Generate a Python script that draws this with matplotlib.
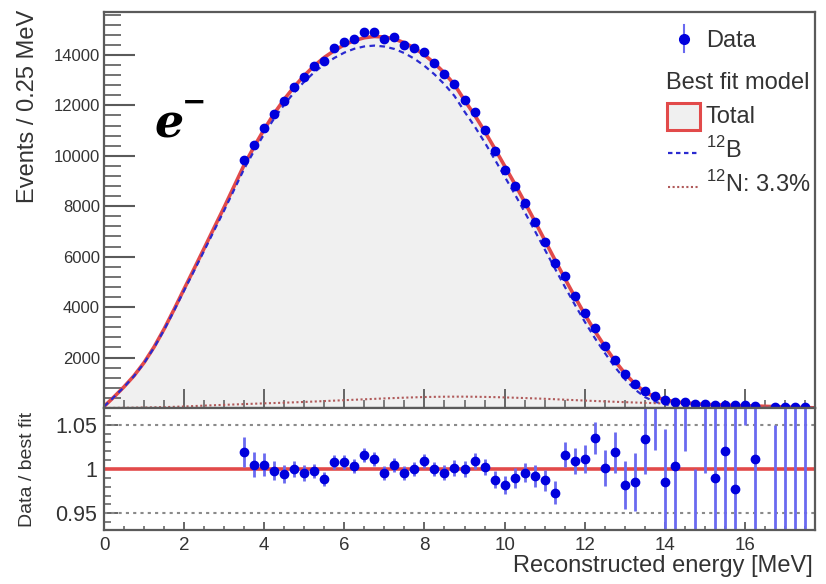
import numpy as np
import matplotlib
matplotlib.use('Agg')
import matplotlib.pyplot as plt
from matplotlib.lines import Line2D
from matplotlib.patches import Rectangle

plt.rcParams['font.family'] = ['Liberation Sans', 'DejaVu Sans']
plt.rcParams['mathtext.fontset'] = 'custom'
plt.rcParams['mathtext.rm'] = 'Liberation Sans'

# bin centres, 0.25 MeV wide
energy = np.arange(0, 17.76, 0.25)

# best fit total model (events / 0.25 MeV)
total_model = [
    60, 440, 840, 1280, 1800, 2420, 3130, 3910, 4720, 5520, 6330, 7150,
    7960, 8800, 9640, 10370, 11050, 11680, 12240, 12740, 13180, 13570,
    13900, 14170, 14400, 14570, 14680, 14730, 14710, 14630, 14480, 14270,
    14000, 13670, 13280, 12820, 12200, 11620, 10980, 10300, 9600, 8900,
    8170, 7420, 6660, 5900, 5150, 4420, 3720, 3060, 2450, 1880, 1380, 960,
    640, 440, 330, 250, 205, 170, 145, 130, 117, 105, 92, 79, 66, 53, 41,
    29, 17, 6,
]

# 12N component
n12_model = [
    0, 4, 8, 14, 20, 27, 35, 47, 60, 77, 95, 110, 125, 140, 155, 170, 185,
    197, 210, 225, 240, 257, 275, 292, 310, 327, 345, 362, 380, 395, 410,
    423, 435, 442, 448, 450, 450, 446, 440, 431, 420, 408, 395, 380, 365,
    348, 330, 312, 295, 278, 262, 247, 232, 218, 205, 192, 180, 169, 158,
    146, 135, 124, 112, 101, 90, 78, 65, 53, 40, 28, 15, 5,
]

# data / best fit, starting at 3.5 MeV
ratio_energy = np.arange(3.5, 17.76, 0.25)
ratio = [
    1.019, 1.005, 1.005, 0.998, 0.994, 1.000, 0.995, 0.998, 0.989, 1.008,
    1.008, 1.003, 1.016, 1.011, 0.995, 1.005, 0.995, 1.000, 1.009, 1.000,
    0.996, 1.001, 1.000, 1.009, 1.002, 0.988, 0.982, 0.990, 0.996, 0.992,
    0.987, 0.973, 1.016, 1.009, 1.011, 1.035, 1.001, 1.019, 0.982, 0.985,
    1.034, 1.080, 0.985, 1.003, 1.100, 0.910, 1.095, 0.990, 1.020, 0.977,
    1.200, 1.011, np.nan, 0.800, 1.250, 0.700, 1.350, 0.600,
]
ratio_err = [
    0.017, 0.014, 0.013, 0.011, 0.010, 0.009, 0.009, 0.008, 0.008, 0.008,
    0.008, 0.008, 0.008, 0.008, 0.008, 0.008, 0.008, 0.008, 0.008, 0.008,
    0.008, 0.009, 0.009, 0.009, 0.009, 0.010, 0.010, 0.011, 0.011, 0.012,
    0.012, 0.013, 0.014, 0.015, 0.016, 0.018, 0.020, 0.023, 0.027, 0.033,
    0.040, 0.058, 0.060, 0.075, 0.080, 0.090, 0.100, 0.100, 0.110, 0.110,
    0.150, 0.130, np.nan, 0.250, 0.400, 0.400, 0.500, 0.500,
]

total_model = np.array(total_model, dtype=float)
n12_model = np.array(n12_model, dtype=float)
b12_model = total_model - n12_model
ratio = np.array(ratio)
ratio_err = np.array(ratio_err)

start = list(energy).index(3.5)
model_at_data = total_model[start:]
data = ratio * model_at_data
data_err = ratio_err * model_at_data
upper_mask = ratio_energy <= 17.5

W, H = 826, 584
fig = plt.figure(figsize=(W / 100, H / 100), dpi=100)

def fx(px):
    return px / W

def fy(py):
    return 1 - py / H

axis_col = '#5a5a5a'
text_col = '#333333'
data_col = '#0000dd'
red = '#e24a4a'

ax1 = fig.add_axes([fx(104), fy(408), fx(815) - fx(104), fy(12) - fy(408)])
ax2 = fig.add_axes([fx(104), fy(530), fx(815) - fx(104), fy(408) - fy(530)])

# upper panel
ax1.fill_between(energy, total_model, color='#f0f0f0', lw=0)
ax1.plot(energy, total_model, color=red, lw=2.6)
ax1.plot(energy, b12_model, color='#2a2ad0', lw=1.6, ls=(0, (2.5, 2)))
ax1.plot(energy, n12_model, color='#b05a5a', lw=1.5, ls=(0, (1, 1.2)))
ax1.errorbar(ratio_energy[upper_mask], data[upper_mask], yerr=data_err[upper_mask],
             fmt='o', color=data_col, ms=6, elinewidth=1.3, capsize=0)

ax1.set_xlim(0, 17.75)
ax1.set_ylim(0, 15700)
ax1.set_xticks(np.arange(0, 17, 2))
ax1.set_xticks(np.arange(0, 17.8, 0.5), minor=True)
ax1.set_xticklabels([])
ax1.set_yticks(np.arange(2000, 14001, 2000))
ax1.set_yticks(np.arange(400, 15700, 400), minor=True)
ax1.tick_params(axis='y', which='major', direction='in', length=22, width=1.5,
                color=axis_col, labelsize=12, labelcolor=text_col, pad=3)
ax1.tick_params(axis='y', which='minor', direction='in', length=12, width=1.2, color=axis_col)
ax1.tick_params(axis='x', which='major', direction='in', length=14, width=1.3, color=axis_col)
ax1.tick_params(axis='x', which='minor', direction='in', length=6, width=1.1, color=axis_col)

# lower panel
ax2.axhline(1.05, color='#8a8a8a', lw=1.5, ls=(0, (1.5, 2)))
ax2.axhline(0.95, color='#8a8a8a', lw=1.5, ls=(0, (1.5, 2)))
ax2.axhline(1.0, color=red, lw=2.6)
ax2.errorbar(ratio_energy, ratio, yerr=ratio_err, fmt='o', color=data_col, ms=6,
             ecolor='#6a6af0', elinewidth=2, capsize=0)
ax2.set_xlim(0, 17.75)
ax2.set_ylim(0.931, 1.069)
ax2.set_xticks(np.arange(0, 17, 2))
ax2.set_xticks(np.arange(0, 17.8, 0.5), minor=True)
ax2.set_yticks([0.95, 1.0, 1.05])
ax2.set_yticklabels(['0.95', '1', '1.05'])
ax2.set_yticks(np.arange(0.94, 1.065, 0.01), minor=True)
ax2.tick_params(axis='x', which='major', direction='in', length=6, width=1.3,
                color=axis_col, labelsize=13.5, labelcolor=text_col, pad=5)
ax2.tick_params(axis='x', which='minor', direction='in', length=3, width=1.1, color=axis_col)
ax2.tick_params(axis='y', which='major', direction='in', length=10, width=1.3,
                color=axis_col, labelsize=15.5, labelcolor=text_col, pad=5)
ax2.tick_params(axis='y', which='minor', direction='in', length=5, width=1.1, color=axis_col)

for ax in (ax1, ax2):
    for sp in ax.spines.values():
        sp.set_color(axis_col)
        sp.set_linewidth(1.6)

# axis titles
fig.text(fx(28), fy(10), 'Events / 0.25 MeV', rotation=90, ha='center', va='top',
         fontsize=17, color=text_col)
fig.text(fx(28), fy(469), 'Data / best fit', rotation=90, ha='center', va='center',
         fontsize=14, color=text_col)
fig.text(fx(813), fy(566), 'Reconstructed energy [MeV]', ha='right', va='center',
         fontsize=17, color=text_col)

# e- label
fig.text(fx(154), fy(137), 'e', fontsize=33, family='DejaVu Serif', weight='bold',
         style='italic', color='black', va='baseline')
fig.text(fx(182), fy(103), '\u2212', fontsize=21, family='DejaVu Sans', weight='bold',
         color='black', va='center')

# legend
fig.add_artist(Line2D([fx(684), fx(684)], [fy(25), fy(52)], color='#6a6af0', lw=1.5))
fig.add_artist(Line2D([fx(684)], [fy(39)], marker='o', ms=7, color=data_col))
fig.text(fx(706), fy(41), 'Data', fontsize=17, color=text_col, va='center')
fig.text(fx(666), fy(83), 'Best fit model', fontsize=17, color=text_col, va='center')
fig.add_artist(Rectangle((fx(667), fy(130)), fx(700) - fx(667), fy(103) - fy(130),
                         facecolor='#f0f0f0', edgecolor=red, lw=2.2))
fig.text(fx(706), fy(117), 'Total', fontsize=17, color=text_col, va='center')
fig.add_artist(Line2D([fx(668), fx(700)], [fy(153), fy(153)], color='#2a2ad0', lw=1.6,
                      ls=(0, (2, 1.6))))
fig.text(fx(706), fy(150), r'$^{12}$B', fontsize=17, color=text_col, va='center')
fig.add_artist(Line2D([fx(668), fx(700)], [fy(187), fy(187)], color='#b05a5a', lw=1.5,
                      ls=(0, (1, 1.2))))
fig.text(fx(706), fy(184), r'$^{12}$N: 3.3%', fontsize=17, color=text_col, va='center')

fig.savefig('out.png', dpi=100)
